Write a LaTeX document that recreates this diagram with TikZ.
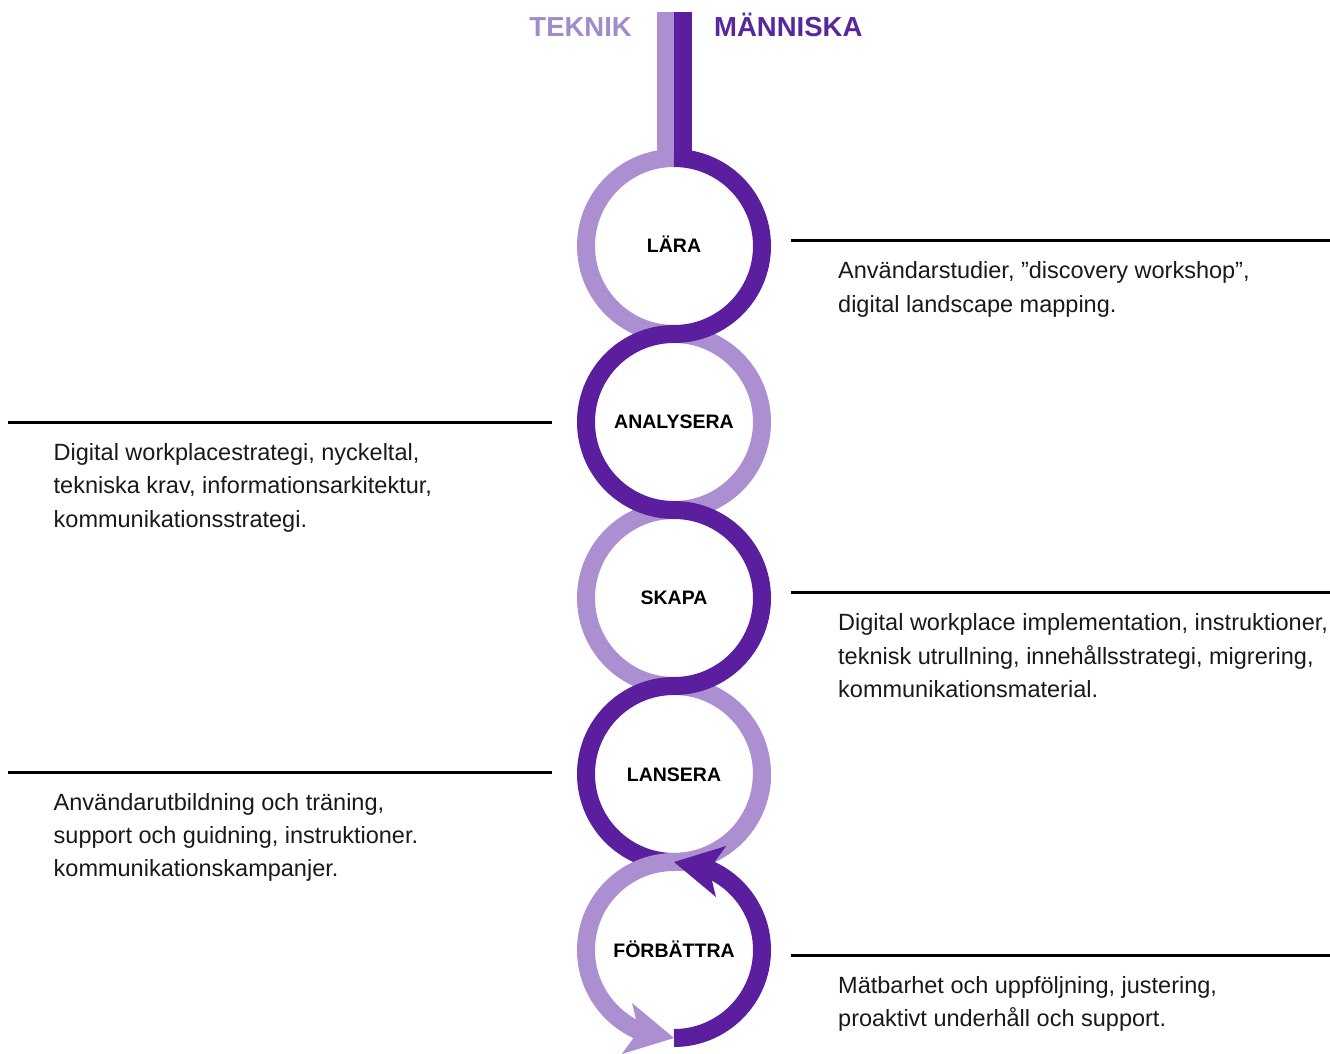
\documentclass[tikz,border=0pt]{standalone}
\usepackage{fontspec}
\setmainfont{Liberation Sans}
\usepackage{tikz}
\usetikzlibrary{arrows.meta, positioning, bending}
\usepackage{xcolor}
\definecolor{teknik}{HTML}{AB8FD0}
\definecolor{manniska}{HTML}{5A1E9E}
\definecolor{teknik text}{HTML}{A28BCA}
\definecolor{manniska text}{HTML}{57289B}
\tikzset{%
	strand/.style={
		line width=18pt
	},
	strand arrow/.style={
		-{Stealth[length=48pt, width=52pt, inset=12pt, line width=0pt, flex]}
	},
	phase/.style={
		font=\fontsize{19.5}{20}\selectfont\bfseries,
		inner sep=0pt,
		anchor=base
	},
	heading/.style={
		font=\fontsize{27.5}{28}\selectfont\bfseries,
		inner sep=0pt
	},
	note/.style={
		font=\fontsize{23.5}{33.3}\selectfont,
		text=black!90,
		align=left,
		inner sep=0pt,
		anchor=base west
	},
	note rule/.style={
		line width=3pt
	},
}

\begin{document}
\begin{tikzpicture}[x=1pt, y=1pt]
			\useasboundingbox (0,0) rectangle (1330,1053);
			
			% Headings above the two strands
			\node[heading, text=teknik text, anchor=base east] (teknik) at (632,1016) {TEKNIK};
			\node[heading, text=manniska text, anchor=base west] (manniska) at (714,1016) {MÄNNISKA};
			
			% Light strand (teknik), rings 1 to 4
			\draw[strand, teknik] (665.5,1041) -- (665.5,893);
			\draw[strand, teknik] (674,895) arc[start angle=90, end angle=270, radius=88]
				arc[start angle=90, end angle=-90, radius=88]
				arc[start angle=90, end angle=270, radius=88]
				arc[start angle=90, end angle=-90, radius=88];
			
			% Dark strand (manniska), rings 1 to 4, on top at the crossings
			\draw[strand, manniska] (682.5,1041) -- (682.5,893);
			\draw[strand, manniska] (674,895) arc[start angle=90, end angle=-90, radius=88]
				arc[start angle=90, end angle=270, radius=88]
				arc[start angle=90, end angle=-90, radius=88]
				arc[start angle=90, end angle=270, radius=88];
			
			% Last ring: the two strands turn into arrows
			\draw[strand, teknik, strand arrow] (762,279) arc[start angle=0, end angle=-90, radius=88]
				arc[start angle=90, end angle=270, radius=88];
			\draw[strand, manniska, strand arrow] (674,15) arc[start angle=-90, end angle=90, radius=88];
			
			% Phase names inside the rings
			\node[phase] (lara) at (674,800) {LÄRA};
			\node[phase] (analysera) at (674,624) {ANALYSERA};
			\node[phase] (skapa) at (674,448) {SKAPA};
			\node[phase] (lansera) at (674,272) {LANSERA};
			\node[phase] (forbattra) at (674,96) {FÖRBÄTTRA};
			
			% Notes on the right (placed at the baseline of their last line)
			\draw[note rule] (791,812.3) -- (1330,812.3);
			\node[note] (note lara) at (838,740.7) {Användarstudier, ”discovery workshop”,\\digital landscape mapping.};
			\draw[note rule] (791,460) -- (1330,460);
			\node[note] (note skapa) at (838,355.4) {Digital workplace implementation, instruktioner,\\teknisk utrullning, innehållsstrategi, migrering,\\kommunikationsmaterial.};
			\draw[note rule] (791,98) -- (1330,98);
			\node[note] (note forbattra) at (838,26.7) {Mätbarhet och uppföljning, justering,\\proaktivt underhåll och support.};
			
			% Notes on the left
			\draw[note rule] (8,630.3) -- (552,630.3);
			\node[note] (note analysera) at (53.5,525.9) {Digital workplacestrategi, nyckeltal,\\tekniska krav, informationsarkitektur,\\kommunikationsstrategi.};
			\draw[note rule] (8,280.3) -- (552,280.3);
			\node[note] (note lansera) at (53.5,176.4) {Användarutbildning och träning,\\support och guidning, instruktioner.\\kommunikationskampanjer.};
\end{tikzpicture}
\end{document}
